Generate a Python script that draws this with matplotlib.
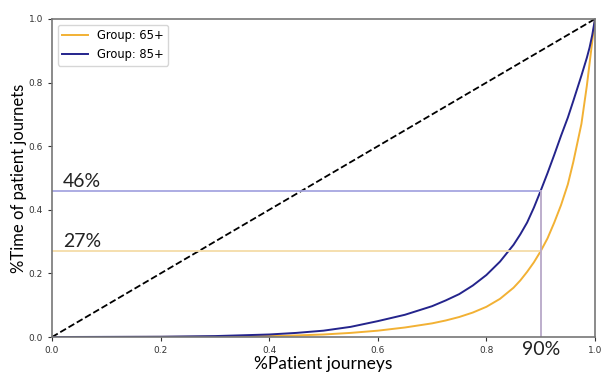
import numpy as np
import matplotlib.pyplot as plt

# share of patient journeys vs share of time
x = [0, 0.1, 0.2, 0.3, 0.4, 0.45, 0.5, 0.55, 0.6, 0.65, 0.7, 0.725, 0.75, 0.775,
     0.8, 0.825, 0.85, 0.8625, 0.875, 0.8875, 0.9, 0.9125, 0.925, 0.9375, 0.95,
     0.96, 0.975, 0.985, 0.99, 0.995, 1.0]
g65 = [0, 0.0002, 0.0005, 0.001, 0.003, 0.005, 0.008, 0.013, 0.02, 0.03, 0.043,
       0.052, 0.063, 0.077, 0.095, 0.12, 0.155, 0.178, 0.205, 0.235, 0.27, 0.31,
       0.36, 0.415, 0.48, 0.55, 0.67, 0.79, 0.86, 0.93, 1.0]
g85 = [0, 0.0005, 0.001, 0.003, 0.008, 0.013, 0.02, 0.032, 0.05, 0.07, 0.097,
       0.115, 0.135, 0.162, 0.195, 0.237, 0.29, 0.323, 0.36, 0.407, 0.46, 0.515,
       0.573, 0.633, 0.69, 0.742, 0.822, 0.878, 0.91, 0.95, 1.0]
labels = ['Group: 65+', 'Group: 85+']
cut_x = 0.9
cut_65 = 0.27
cut_85 = 0.46

orange = '#f2b134'
navy = '#24248c'
ann_font = 'Lato'

fig = plt.figure(figsize=(6.01, 3.72), dpi=100)
ax = fig.add_axes([0.0865, 0.094, 0.9035, 0.855])

ax.plot([0, 1], [0, 1], '--', color='black', lw=1.3)
ax.plot(x, g65, color=orange, lw=1.4, label=labels[0])
ax.plot(x, g85, color=navy, lw=1.4, label=labels[1])

# guide lines at 90%
ax.plot([0, cut_x], [cut_85, cut_85], color='#a6a6e0', lw=1.3)
ax.plot([0, cut_x], [cut_65, cut_65], color='#f5dca8', lw=1.3)
ax.plot([cut_x, cut_x], [0, cut_85], color='#b8a8c8', lw=1.3)

ax.text(0.02, 0.473, '46%', fontsize=14, family=ann_font, color='#222222')
ax.text(0.02, 0.283, '27%', fontsize=14, family=ann_font, color='#222222')
ax.text(cut_x, -0.012, '90%', fontsize=14, family=ann_font, color='#222222',
        ha='center', va='top')

ax.set_xlim(0, 1)
ax.set_ylim(0, 1)
ax.set_xticks([0, 0.2, 0.4, 0.6, 0.8, 1.0])
ax.set_yticks([0, 0.2, 0.4, 0.6, 0.8, 1.0])
ax.tick_params(labelsize=6.5, colors='#333333', length=3, width=0.8)
for s in ax.spines.values():
    s.set_color('#777777')
    s.set_linewidth(1.2)

ax.set_xlabel('%Patient journeys', fontsize=12.5, family=ann_font, labelpad=1)
ax.set_ylabel('%Time of patient journets', fontsize=12, family=ann_font, labelpad=1)
ax.legend(loc='upper left', fontsize=8.3, frameon=True, handlelength=2.2)

fig.savefig('out.png', dpi=100)
